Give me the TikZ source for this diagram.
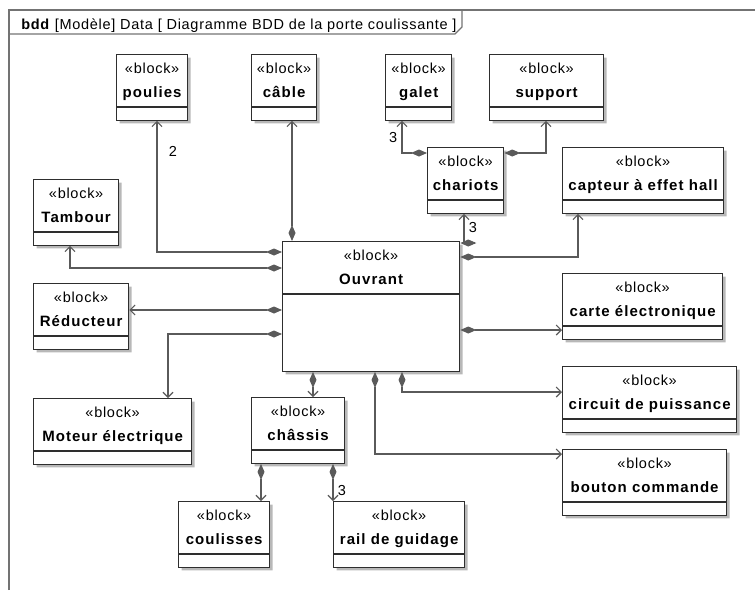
\documentclass[tikz,border=0pt]{standalone}
\usepackage{fontspec}
\setmainfont{Liberation Sans}[LetterSpace=5]
\newfontfamily\nomfont{Liberation Sans}[LetterSpace=7]
\usetikzlibrary{arrows.meta,shapes.multipart,shadows}
\definecolor{lien}{HTML}{5A5A5A}
\definecolor{bord}{HTML}{2E2E2E}
\newcommand{\blk}[1]{\begin{tabular}{@{}c@{}}«block»\\{\nomfont\fontsize{15}{24}\selectfont\bfseries #1}\end{tabular}}

\begin{document}
\begin{tikzpicture}[x=1pt,y=-1pt,semithick,font=\fontsize{14.5}{24}\selectfont,
    block/.style={rectangle split,rectangle split parts=2,draw=bord,line width=1.3pt,fill=white,
        anchor=north west,inner xsep=2pt,inner ysep=1.5pt,
        rectangle split empty part height=9pt,rectangle split empty part depth=0pt,
        drop shadow={shadow xshift=3pt,shadow yshift=-3pt,fill=black!28,opacity=1}},
    comp/.style={draw=lien,line width=1.1pt,{Diamond[length=16pt,width=7pt]}-{Straight Barb[length=5pt,width=10pt]}},
    hv/.style={to path={-| (\tikztotarget) \tikztonodes}},
    vh/.style={to path={|- (\tikztotarget) \tikztonodes}}]
                \useasboundingbox (0,0) rectangle (755,590);
                \draw[draw=black!55,line width=1.2pt] (9,590) -- (9,10) -- (755,10);
                \draw[draw=black!55,line width=1.2pt] (9,34) -- (455,34) -- (462,27) -- (462,10);
                \node[anchor=base west,inner sep=0pt](Titre)at(21,29){\textbf{bdd} [Modèle] Data [ Diagramme BDD de la porte coulissante ]};
                \node[block,minimum width=71pt](Poulies)at(116,54){\blk{poulies}};
                \node[block,minimum width=65pt](Cable)at(251,54){\blk{câble}};
                \node[block,minimum width=66pt](Galet)at(385,54){\blk{galet}};
                \node[block,minimum width=114pt](Support)at(489,54){\blk{support}};
                \node[block,minimum width=76pt](Chariots)at(427,147){\blk{chariots}};
                \node[block,minimum width=161pt](Capteur)at(562,147){\blk{capteur à effet hall}};
                \node[block,minimum width=85pt](Tambour)at(33,179){\blk{Tambour}};
                \node[block,minimum width=95pt](Reducteur)at(33,283){\blk{Réducteur}};
                \node[block,minimum width=177pt,rectangle split empty part height=73pt](Ouvrant)at(282,241){\blk{Ouvrant}};
                \node[block,minimum width=160pt](Carte)at(562,273){\blk{carte électronique}};
                \node[block,minimum width=158pt](Moteur)at(33,398){\blk{Moteur électrique}};
                \node[block,minimum width=93pt](Chassis)at(251,397){\blk{châssis}};
                \node[block,minimum width=174pt](Circuit)at(562,366){\blk{circuit de puissance}};
                \node[block,minimum width=164pt](Bouton)at(562,449){\blk{bouton commande}};
                \node[block,minimum width=91pt](Coulisses)at(178,501){\blk{coulisses}};
                \node[block,minimum width=131pt](Rail)at(333,501){\blk{rail de guidage}};
                \path[](Ouvrant.west |- 0,252) edge[comp,hv] node[pos=0.885,right=8pt]{2} (157,0 |- Poulies.south)
                (Ouvrant.north -| 292,0) edge[comp] (Cable.south -| 292,0)
                (Ouvrant.west |- 0,268) edge[comp,hv] (70,0 |- Tambour.south)
                (Ouvrant.west |- 0,310) edge[comp] (Reducteur.east |- 0,310)
                (Ouvrant.west |- 0,334) edge[comp,hv] (168,0 |- Moteur.north)
                (Ouvrant.east |- 0,243) edge[comp,hv] node[pos=0.76,right=1pt]{3} (464,0 |- Chariots.south)
                (Ouvrant.east |- 0,257) edge[comp,hv] (578,0 |- Capteur.south)
                (Ouvrant.east |- 0,330) edge[comp] (Carte.west |- 0,330)
                (Ouvrant.south -| 402,0) edge[comp,vh] (Circuit.west |- 0,392)
                (Ouvrant.south -| 375,0) edge[comp,vh] (Bouton.west |- 0,454)
                (Ouvrant.south -| 313,0) edge[comp] (Chassis.north -| 313,0)
                (Chassis.south -| 261,0) edge[comp] (Coulisses.north -| 261,0)
                (Chassis.south -| 333,0) edge[comp] node[pos=0.71,right=1pt]{3} (Rail.north -| 333,0)
                (Chariots.west |- 0,153) edge[comp,hv] node[pos=0.74,left=1pt]{3} (402,0 |- Galet.south)
                (Chariots.east |- 0,153) edge[comp,hv] (546,0 |- Support.south);
            \end{tikzpicture}
\end{document}
